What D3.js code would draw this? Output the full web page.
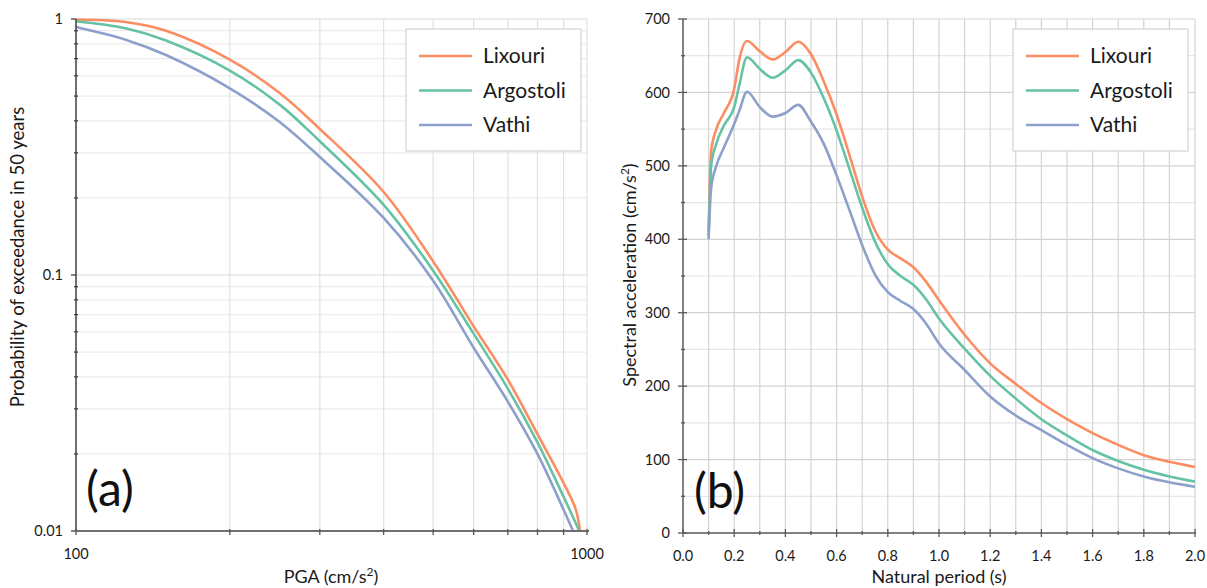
<!DOCTYPE html>
<html><head><meta charset="utf-8">
<script src="https://cdn.jsdelivr.net/npm/d3@7"></script>
<style>
body{margin:0;background:#fff;}
svg{display:block;font-family:Lato,"Open Sans",sans-serif;}
</style></head>
<body><svg id="c" width="1207" height="588"></svg>
<script>
// ---------- DATA ----------
const seriesNames = ["Lixouri","Argostoli","Vathi"];
const seriesColors = ["#fc8d62","#66c2a5","#8da0cb"];

// (a) hazard curves: PGA (cm/s^2) vs probability of exceedance in 50 years
const lixouriPGA   = [100,125,150,200,250,300,400,500,600,700,800,900,950,969];
const lixouriPoE   = [0.995,0.973,0.899,0.694,0.515,0.372,0.211,0.113,0.063,0.039,0.0239,0.0154,0.0122,0.01];
const argostoliPGA = [100,125,150,200,250,300,400,500,600,700,800,900,966];
const argostoliPoE = [0.98,0.92,0.824,0.629,0.464,0.333,0.188,0.104,0.059,0.036,0.0222,0.0136,0.01];
const vathiPGA     = [100,125,150,200,250,300,400,500,600,700,800,900,939];
const vathiPoE     = [0.93,0.83,0.723,0.536,0.397,0.289,0.167,0.095,0.052,0.032,0.020,0.0121,0.01];

// (b) uniform hazard spectra: natural period (s) vs spectral acceleration (cm/s^2)
const periods = [0.10,0.11,0.13,0.16,0.20,0.22,0.25,0.30,0.35,0.40,0.45,0.50,0.55,0.60,0.65,0.70,0.75,0.80,0.85,0.90,0.95,1.0,1.1,1.2,1.3,1.4,1.5,1.6,1.7,1.8,1.9,2.0];
const lixouriSA   = [410,520,550,572,605,645,670,656,645,655,669,652,615,570,515,458,412,386,374,362,342,317,270,231,203,177,155,136,120,106,97,90];
const argostoliSA = [405,500,530,555,580,610,648,632,620,630,644,627,592,548,496,443,397,366,350,338,318,292,251,214,183,155,133,113,98,86,77,70];
const vathiSA     = [400,470,500,525,557,575,601,580,567,572,583,560,530,487,440,392,352,328,316,305,285,258,222,186,160,140,120,102,88,77,69,63];

const aYTicks = [1,0.1,0.01];
const aYTickLabels = ["1","0.1","0.01"];
const aXTicks = [100,1000];
const aXTickLabels = ["100","1000"];
const bXTicks = [0,0.2,0.4,0.6,0.8,1.0,1.2,1.4,1.6,1.8,2.0];
const bYTicks = [0,100,200,300,400,500,600,700];

// ---------- DRAW ----------
const svg = d3.select("#c");

function minorLog(lo, hi){ // 2..9 × decade
  const out=[];
  for(let d=lo; d<hi; d*=10){ for(let k=2;k<=9;k++) out.push(d*k); }
  return out;
}

function legend(g, x0, y0){
  const w=175, h=122;
  g.append("rect").attr("x",x0).attr("y",y0).attr("width",w).attr("height",h)
    .attr("fill","#fff").attr("stroke","#c9c9c9").attr("stroke-width",1);
  seriesNames.forEach((n,i)=>{
    const yy = y0+27+i*34.5;
    g.append("line").attr("x1",x0+13).attr("x2",x0+66).attr("y1",yy).attr("y2",yy)
      .attr("stroke",seriesColors[i]).attr("stroke-width",2.5);
    g.append("text").attr("x",x0+77).attr("y",yy).attr("dy","0.35em")
      .attr("font-size",21).attr("fill","#1a1a1a").text(n);
  });
}

function superTitle(g, x, y, pre, rot){
  const t = g.append("text").attr("x",x).attr("y",y).attr("text-anchor","middle")
    .attr("font-size",18).attr("fill","#1a1a1a");
  if(rot) t.attr("transform",`rotate(-90,${x},${y})`);
  t.append("tspan").text(pre);
  t.append("tspan").attr("font-size",12).attr("dy",-7).text("2");
  t.append("tspan").attr("dy",7).text(")");
  return t;
}

// ===== Chart (a) =====
{
  const g = svg.append("g");
  const x = d3.scaleLog().domain([100,1000]).range([76,587]);
  const y = d3.scaleLog().domain([0.01,1]).range([531,19]);
  const xMinor = minorLog(100,1000);
  const yMinor = minorLog(0.01,1);
  g.selectAll(".hm").data(yMinor).join("line")
    .attr("x1",76).attr("x2",587).attr("y1",d=>y(d)).attr("y2",d=>y(d))
    .attr("stroke","#ececec").attr("stroke-width",1.2);
  g.selectAll(".hM").data(aYTicks).join("line")
    .attr("x1",76).attr("x2",587).attr("y1",d=>y(d)).attr("y2",d=>y(d))
    .attr("stroke","#d9d9d9").attr("stroke-width",1.2);
  g.selectAll(".vm").data(xMinor.concat([1000])).join("line")
    .attr("y1",19).attr("y2",531).attr("x1",d=>x(d)).attr("x2",d=>x(d))
    .attr("stroke","#e2e2e2").attr("stroke-width",1.2);

  const sets = [[lixouriPGA,lixouriPoE],[argostoliPGA,argostoliPoE],[vathiPGA,vathiPoE]];
  const line = d3.line().x(d=>x(d[0])).y(d=>y(d[1])).curve(d3.curveCatmullRom.alpha(0.5));
  sets.forEach((s,i)=>{
    g.append("path").datum(d3.zip(s[0],s[1])).attr("d",line)
      .attr("fill","none").attr("stroke",seriesColors[i]).attr("stroke-width",2.6);
  });

  g.append("line").attr("x1",76).attr("x2",76).attr("y1",19).attr("y2",531)
    .attr("stroke","#404040").attr("stroke-width",1.5);
  g.append("line").attr("x1",76).attr("x2",589).attr("y1",531).attr("y2",531)
    .attr("stroke","#6f6f6f").attr("stroke-width",2);
  g.selectAll(".ytM").data(aYTicks).join("line")
    .attr("x1",71).attr("x2",76).attr("y1",d=>y(d)).attr("y2",d=>y(d))
    .attr("stroke","#404040").attr("stroke-width",1.3);
  g.selectAll(".ytm").data(yMinor).join("line")
    .attr("x1",74).attr("x2",78).attr("y1",d=>y(d)).attr("y2",d=>y(d))
    .attr("stroke","#404040").attr("stroke-width",1.3);
  g.selectAll(".xt").data(xMinor.concat(aXTicks)).join("line")
    .attr("x1",d=>x(d)).attr("x2",d=>x(d)).attr("y1",529).attr("y2",535)
    .attr("stroke","#555").attr("stroke-width",1.3);
  g.selectAll(".ytl").data(aYTicks).join("text")
    .attr("x",63).attr("y",d=>y(d)).attr("dy","0.35em").attr("text-anchor","end")
    .attr("font-size",14.5).attr("fill","#1a1a1a").text((d,i)=>aYTickLabels[i]);
  g.selectAll(".xtl").data(aXTicks).join("text")
    .attr("x",d=>x(d)).attr("y",554).attr("dy","0.35em").attr("text-anchor","middle")
    .attr("font-size",14.5).attr("fill","#1a1a1a").text((d,i)=>aXTickLabels[i]);

  superTitle(g, 331, 583, "PGA (cm/s", false);
  g.append("text").attr("x",24).attr("y",257).attr("text-anchor","middle")
    .attr("transform","rotate(-90,24,257)").attr("font-size",18.5).attr("fill","#1a1a1a")
    .text("Probability of exceedance in 50 years");
  g.append("text").attr("x",86).attr("y",506).attr("font-size",48).attr("fill","#111").text("(a)");
  legend(g, 406, 29);
}

// ===== Chart (b) =====
{
  const g = svg.append("g");
  const x = d3.scaleLinear().domain([0,2]).range([683,1195]);
  const y = d3.scaleLinear().domain([0,700]).range([533,19]);
  const yMinor = d3.range(50,700,100);
  const xAll = d3.range(1,21).map(i=>i/10);
  g.selectAll(".hm").data(yMinor).join("line")
    .attr("x1",683).attr("x2",1195).attr("y1",d=>y(d)).attr("y2",d=>y(d))
    .attr("stroke","#e6e6e6").attr("stroke-width",1.2);
  g.selectAll(".hM").data(bYTicks.slice(1)).join("line")
    .attr("x1",683).attr("x2",1195).attr("y1",d=>y(d)).attr("y2",d=>y(d))
    .attr("stroke","#d4d4d4").attr("stroke-width",1.2);
  g.selectAll(".vg").data(xAll).join("line")
    .attr("y1",19).attr("y2",533).attr("x1",d=>x(d)).attr("x2",d=>x(d))
    .attr("stroke","#d4d4d4").attr("stroke-width",1.2);

  const sets = [lixouriSA, argostoliSA, vathiSA];
  const line = d3.line().x(d=>x(d[0])).y(d=>y(d[1])).curve(d3.curveMonotoneX);
  sets.forEach((s,i)=>{
    g.append("path").datum(d3.zip(periods,s)).attr("d",line)
      .attr("fill","none").attr("stroke",seriesColors[i]).attr("stroke-width",2.6);
  });

  g.append("line").attr("x1",683).attr("x2",683).attr("y1",19).attr("y2",533)
    .attr("stroke","#595959").attr("stroke-width",1.5);
  g.append("line").attr("x1",683).attr("x2",1196).attr("y1",533).attr("y2",533)
    .attr("stroke","#595959").attr("stroke-width",1.5);
  g.selectAll(".ytM").data(bYTicks).join("line")
    .attr("x1",678).attr("x2",687).attr("y1",d=>y(d)).attr("y2",d=>y(d))
    .attr("stroke","#595959").attr("stroke-width",1.3);
  g.selectAll(".ytm").data(yMinor).join("line")
    .attr("x1",681).attr("x2",685).attr("y1",d=>y(d)).attr("y2",d=>y(d))
    .attr("stroke","#595959").attr("stroke-width",1.3);
  g.selectAll(".xtM").data(bXTicks).join("line")
    .attr("x1",d=>x(d)).attr("x2",d=>x(d)).attr("y1",529).attr("y2",537)
    .attr("stroke","#595959").attr("stroke-width",1.3);
  g.selectAll(".xtm").data(d3.range(1,20,2).map(i=>i/10)).join("line")
    .attr("x1",d=>x(d)).attr("x2",d=>x(d)).attr("y1",531).attr("y2",535)
    .attr("stroke","#595959").attr("stroke-width",1.3);
  g.selectAll(".ytl").data(bYTicks).join("text")
    .attr("x",670).attr("y",d=>y(d)).attr("dy","0.35em").attr("text-anchor","end")
    .attr("font-size",14.5).attr("fill","#1a1a1a").text(d=>d);
  g.selectAll(".xtl").data(bXTicks).join("text")
    .attr("x",d=>x(d)).attr("y",556).attr("dy","0.35em").attr("text-anchor","middle")
    .attr("font-size",14.5).attr("fill","#1a1a1a").text(d=>d.toFixed(1));

  g.append("text").attr("x",939).attr("y",583).attr("text-anchor","middle")
    .attr("font-size",18).attr("fill","#1a1a1a").text("Natural period (s)");
  superTitle(g, 636, 275, "Spectral acceleration (cm/s", true);
  g.append("text").attr("x",694).attr("y",508).attr("font-size",48).attr("fill","#111").text("(b)");
  legend(g, 1013, 29);
}
</script></body></html>
